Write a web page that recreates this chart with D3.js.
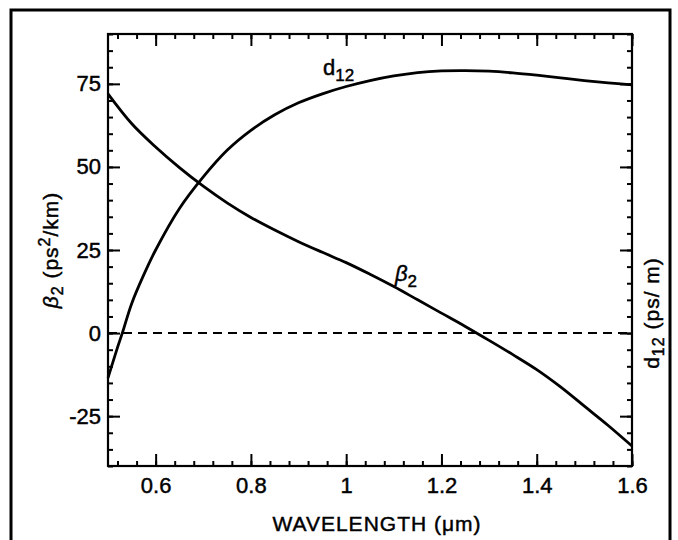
<!DOCTYPE html>
<html><head><meta charset="utf-8">
<script src="https://cdn.jsdelivr.net/npm/d3@7"></script>
<style>
body{margin:0;background:#fff}
svg text{font-family:"Liberation Sans",Arial,Helvetica,sans-serif;fill:#000;stroke:#000;stroke-width:0.45px}
</style>
</head><body>
<svg id="c" width="678" height="540"></svg>
<script>
// ---- data ----
const beta2Wavelength = [0.50,0.55,0.60,0.65,0.70,0.75,0.80,0.85,0.90,0.95,1.00,1.05,1.10,1.15,1.20,1.25,1.30,1.35,1.40,1.45,1.50,1.55,1.60];
const beta2Values     = [72,63,56,49.8,44.2,39.2,34.8,31,27.5,24.3,21.2,17.7,14,10,6,2,-2.2,-6.5,-11,-16.2,-22,-27.8,-34];
const d12Wavelength   = [0.50,0.52,0.53,0.55,0.575,0.60,0.65,0.70,0.75,0.80,0.85,0.90,0.95,1.00,1.05,1.10,1.15,1.20,1.25,1.30,1.35,1.40,1.45,1.50,1.55,1.60];
const d12Values       = [-13.5,-4.3,0,9,17.5,25,37.5,47,55,61,65.7,69.3,72,74.2,76,77.4,78.4,78.9,79,78.8,78.3,77.6,76.8,76,75.3,74.7];
const xTickValues = [0.6,0.8,1.0,1.2,1.4,1.6];
const xTickLabels = ["0.6","0.8","1","1.2","1.4","1.6"];
const yTickValues = [-25,0,25,50,75];
const yTickLabels = ["-25","0","25","50","75"];

const svg = d3.select("#c");
const L=108,R=632,T=34,B=466;
const x = d3.scaleLinear([0.5,1.6],[L,R]);
const y = d3.scaleLinear([-40,90],[B,T]);
const yR = d3.scaleLinear([-40,90],[B,T]);

// outer frame
svg.append("rect").attr("x",11).attr("y",10).attr("width",659).attr("height",560)
  .attr("fill","none").attr("stroke","#000").attr("stroke-width",3);

const xMinor = d3.range(13,41).map(i=>+(i*0.04).toFixed(2));
const yMinor = d3.range(-8,19).map(i=>i*5);

function styleAxis(g){ g.select(".domain").remove(); g.selectAll("line").attr("stroke","#000").attr("stroke-width",2); }

// bottom
svg.append("g").attr("transform",`translate(0,${B})`)
  .call(d3.axisBottom(x).tickValues(xMinor).tickSize(-5).tickFormat("")).call(styleAxis);
svg.append("g").attr("transform",`translate(0,${B})`)
  .call(d3.axisBottom(x).tickValues(xTickValues).tickSize(-12).tickPadding(11)
    .tickFormat((d,i)=>xTickLabels[i])).call(styleAxis)
  .selectAll("text").attr("font-size",22).attr("font-family",null);
// top
svg.append("g").attr("transform",`translate(0,${T})`)
  .call(d3.axisTop(x).tickValues(xMinor).tickSize(-5).tickFormat("")).call(styleAxis);
svg.append("g").attr("transform",`translate(0,${T})`)
  .call(d3.axisTop(x).tickValues(xTickValues).tickSize(-12).tickFormat("")).call(styleAxis);
// left
svg.append("g").attr("transform",`translate(${L},0)`)
  .call(d3.axisLeft(y).tickValues(yMinor).tickSize(-5).tickFormat("")).call(styleAxis);
svg.append("g").attr("transform",`translate(${L},0)`)
  .call(d3.axisLeft(y).tickValues(yTickValues).tickSize(-12).tickPadding(7)
    .tickFormat((d,i)=>yTickLabels[i])).call(styleAxis)
  .selectAll("text").attr("font-size",22).attr("font-family",null);
// right
svg.append("g").attr("transform",`translate(${R},0)`)
  .call(d3.axisRight(yR).tickValues(yMinor).tickSize(-5).tickFormat("")).call(styleAxis);
svg.append("g").attr("transform",`translate(${R},0)`)
  .call(d3.axisRight(yR).tickValues(yTickValues).tickSize(-12).tickFormat("")).call(styleAxis);

// plot frame
svg.append("rect").attr("x",L).attr("y",T).attr("width",R-L).attr("height",B-T)
  .attr("fill","none").attr("stroke","#000").attr("stroke-width",2.2);

// zero dashed line
svg.append("line").attr("x1",L).attr("x2",R).attr("y1",y(0)).attr("y2",y(0))
  .attr("stroke","#000").attr("stroke-width",2).attr("stroke-dasharray","9,6");

const lineB = d3.line().x((d,i)=>x(beta2Wavelength[i])).y(d=>y(d)).curve(d3.curveCatmullRom.alpha(0.5));
const lineD = d3.line().x((d,i)=>x(d12Wavelength[i])).y(d=>yR(d)).curve(d3.curveCatmullRom.alpha(0.5));
svg.append("path").attr("d",lineB(beta2Values)).attr("fill","none").attr("stroke","#000").attr("stroke-width",2.8);
svg.append("path").attr("d",lineD(d12Values)).attr("fill","none").attr("stroke","#000").attr("stroke-width",2.8);

// curve labels
const tb = svg.append("text").attr("x",395).attr("y",281).attr("font-size",22);
tb.append("tspan").attr("font-style","italic").text("β");
tb.append("tspan").attr("font-size",17).attr("dy",6).text("2");
const td = svg.append("text").attr("x",323).attr("y",75).attr("font-size",22);
td.append("tspan").text("d");
td.append("tspan").attr("font-size",17).attr("dy",6).text("12");

// axis titles
svg.append("text").attr("x",377).attr("y",531).attr("text-anchor","middle")
  .attr("font-size",21).attr("letter-spacing",1).text("WAVELENGTH (μm)");
const lt = svg.append("text").attr("transform","translate(58,250) rotate(-90)")
  .attr("text-anchor","middle").attr("font-size",21).attr("letter-spacing",1);
lt.append("tspan").attr("font-style","italic").text("β");
lt.append("tspan").attr("font-size",16).attr("dy",5).text("2");
lt.append("tspan").attr("dy",-5).text(" (ps");
lt.append("tspan").attr("font-size",16).attr("dy",-8).text("2");
lt.append("tspan").attr("dy",8).text("/km)");
const rt = svg.append("text").attr("transform","translate(659,313) rotate(-90)")
  .attr("text-anchor","middle").attr("font-size",21).attr("letter-spacing",1);
rt.append("tspan").text("d");
rt.append("tspan").attr("font-size",16).attr("dy",5).text("12");
rt.append("tspan").attr("dy",-5).text(" (ps/ m)");
</script>
</body></html>
